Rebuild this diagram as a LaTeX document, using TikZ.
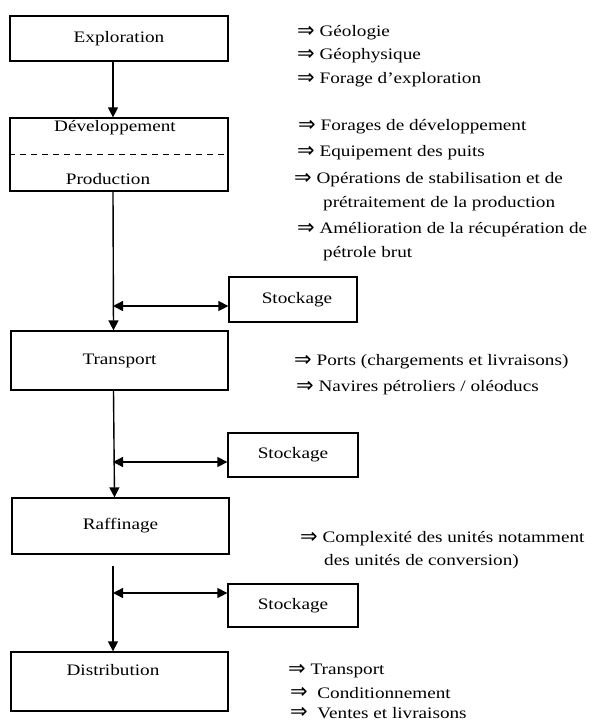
\documentclass[tikz,border=0pt]{standalone}
\usepackage{fontspec}
\setmainfont{Liberation Serif}[FakeStretch=1.2]
\newfontfamily\arrowfont{DejaVu Sans}
\usetikzlibrary{arrows.meta}
\newcommand{\impl}{{\arrowfont\fontsize{21}{19}\selectfont\raisebox{-0.5pt}{⇒}}}
\tikzstyle{stage}=[draw=black,line width=1.3pt,inner sep=0pt]
\tikzstyle{note}=[anchor=west,inner sep=0pt]
\tikzstyle{flow}=[line width=1.4pt,-{Triangle[length=10pt,width=10pt]}]
\tikzstyle{both}=[line width=1.4pt,{Triangle[length=10pt,width=10pt]}-{Triangle[length=10pt,width=10pt]}]

\begin{document}
\begin{tikzpicture}[x=1pt,y=-1pt,font=\fontsize{16}{19}\selectfont]
\useasboundingbox (0,0) rectangle (594,724);
\node[stage,minimum width=218pt,minimum height=45pt] (expl) at (119,38.5) {Exploration};
\node[stage,minimum width=218pt,minimum height=73pt] (dev) at (119,154.5) {};
\node (devtop) at (115,128) {Développement};
\node (devbot) at (108,179) {Production};
\draw[line width=1.3pt,dash pattern=on 6pt off 5pt] (dev.west) -- (dev.east);
\node[stage,minimum width=217pt,minimum height=59pt] (trans) at (119.5,360.5) {Transport};
\node[stage,minimum width=217pt,minimum height=56pt] (raff) at (120.5,526) {Raffinage};
\node[stage,minimum width=217pt,minimum height=59pt] (dist) at (119.5,681.5) {};
\node (disttxt) at (113,670) {Distribution};
\node[stage,minimum width=128pt,minimum height=45pt] (stock1) at (293,299.5) {\hspace{8pt}Stockage};
\node[stage,minimum width=130pt,minimum height=44pt] (stock2) at (293,455) {Stockage};
\node[stage,minimum width=130pt,minimum height=43pt] (stock3) at (293,605.5) {Stockage};

\draw[flow] ([xshift=-6pt]expl.south) -- ([xshift=-6pt]dev.north);
\draw[flow] ([xshift=-6pt]dev.south) -- ([xshift=-6pt]trans.north);
\draw[flow] ([xshift=-6pt]trans.south) -- ([xshift=-6pt]raff.north);
\coordinate (raffout) at (113,566);
\draw[flow] (raffout) -- ([xshift=-6.5pt]dist.north);
\coordinate (j1) at (113,306);
\coordinate (j2) at (113,462);
\coordinate (j3) at (113,593);
\draw[both] (j1) -- (j1 -| stock1.west);
\draw[both] (j2) -- (j2 -| stock2.west);
\draw[both] (j3) -- (j3 -| stock3.west);

\node[note] (geo) at (297,33) {\impl\ Géologie};
\node[note] (geoph) at (297,56) {\impl\ Géophysique};
\node[note] (forexp) at (297,80) {\impl\ Forage d’exploration};
\node[note] (fordev) at (298,127) {\impl\ Forages de développement};
\node[note] (equip) at (297,153) {\impl\ Equipement des puits};
\node[note] (oper) at (294,180) {\impl\ Opérations de stabilisation et de};
\node[note] (opercont) at (323,204) {prétraitement de la production};
\node[note] (amel) at (297,230) {\impl\ Amélioration de la récupération de};
\node[note] (amelcont) at (323,254) {pétrole brut};
\node[note] (ports) at (294,362) {\impl\ Ports (chargements et livraisons)};
\node[note] (navires) at (296,388) {\impl\ Navires pétroliers / oléoducs};
\node[note] (compl) at (300,539) {\impl\ Complexité des unités notamment};
\node[note] (complcont) at (324,562) {des unités de conversion)};
\node[note] (distrans) at (288,671) {\impl\ Transport};
\node[note] (cond) at (290,693) {\impl\ \ Conditionnement};
\node[note] (ventes) at (290,713) {\impl\ \ Ventes et livraisons};
\end{tikzpicture}
\end{document}
